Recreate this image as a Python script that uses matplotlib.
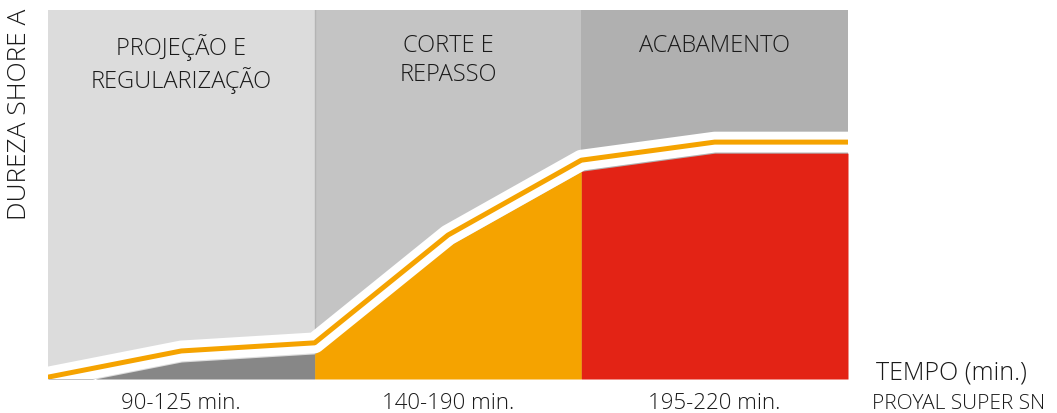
import matplotlib.pyplot as plt
import numpy as np

plt.rcParams['font.family'] = ['Open Sans', 'DejaVu Sans']

# hardness curve (arbitrary 0-100 scale), points at half-stage steps
x_pts = [0, 1, 2, 3, 4, 5, 6]
hardness = [0.5, 7.6, 9.8, 39.0, 59.3, 64.2, 64.2]

stages = ['PROJEÇÃO E\nREGULARIZAÇÃO', 'CORTE E\nREPASSO', 'ACABAMENTO']
times = ['90-125 min.', '140-190 min.', '195-220 min.']
panel_colors = ['#dcdcdc', '#c4c4c4', '#b0b0b0']
fill_colors = ['#878787', '#f5a300', '#e32315']

fig = plt.figure(figsize=(10.57, 4.14), dpi=100)
ax = fig.add_axes([48 / 1057, 34 / 414, 800 / 1057, 369 / 414])
ax.set_xlim(0, 6)
ax.set_ylim(0, 100)
ax.axis('off')

x = np.array(x_pts, dtype=float)
y = np.array(hardness)
offset = 3.0
txt = dict(color='#1a1a1a', fontweight='light')

for i in range(3):
    ax.axvspan(2 * i, 2 * i + 2, color=panel_colors[i], lw=0, zorder=0)
    xs = x[2 * i:2 * i + 3]
    ys = y[2 * i:2 * i + 3] - offset
    ax.fill_between(xs, 0, ys, color=fill_colors[i], lw=0, zorder=1)
    ax.text(2 * i + 1, 93.8, stages[i], ha='center', va='top', fontsize=17,
            linespacing=1.3, zorder=5, **txt)
    fig.text((48 + 133.3 * (2 * i + 1)) / 1057, 1 - 404 / 414, times[i],
             ha='center', va='center', fontsize=16, **txt)

ax.axvline(2, color='#b4b4b4', lw=1, zorder=0.5)

ax.plot(x, y, color='white', lw=15, solid_capstyle='butt', zorder=3)
ax.plot(x, y, color='#f5a300', lw=3.6, solid_capstyle='round', zorder=4)

fig.text(20 / 1057, 1 - 9 / 414, 'DUREZA SHORE A', rotation=90, ha='center',
         va='top', fontsize=19, **txt)
fig.text(876 / 1057, 1 - 373 / 414, 'TEMPO (min.)', ha='left', va='center',
         fontsize=18, **txt)
fig.text(872 / 1057, 1 - 404 / 414, 'PROYAL SUPER SN', ha='left', va='center',
         fontsize=15, **txt)

fig.savefig('out.png', dpi=100)
